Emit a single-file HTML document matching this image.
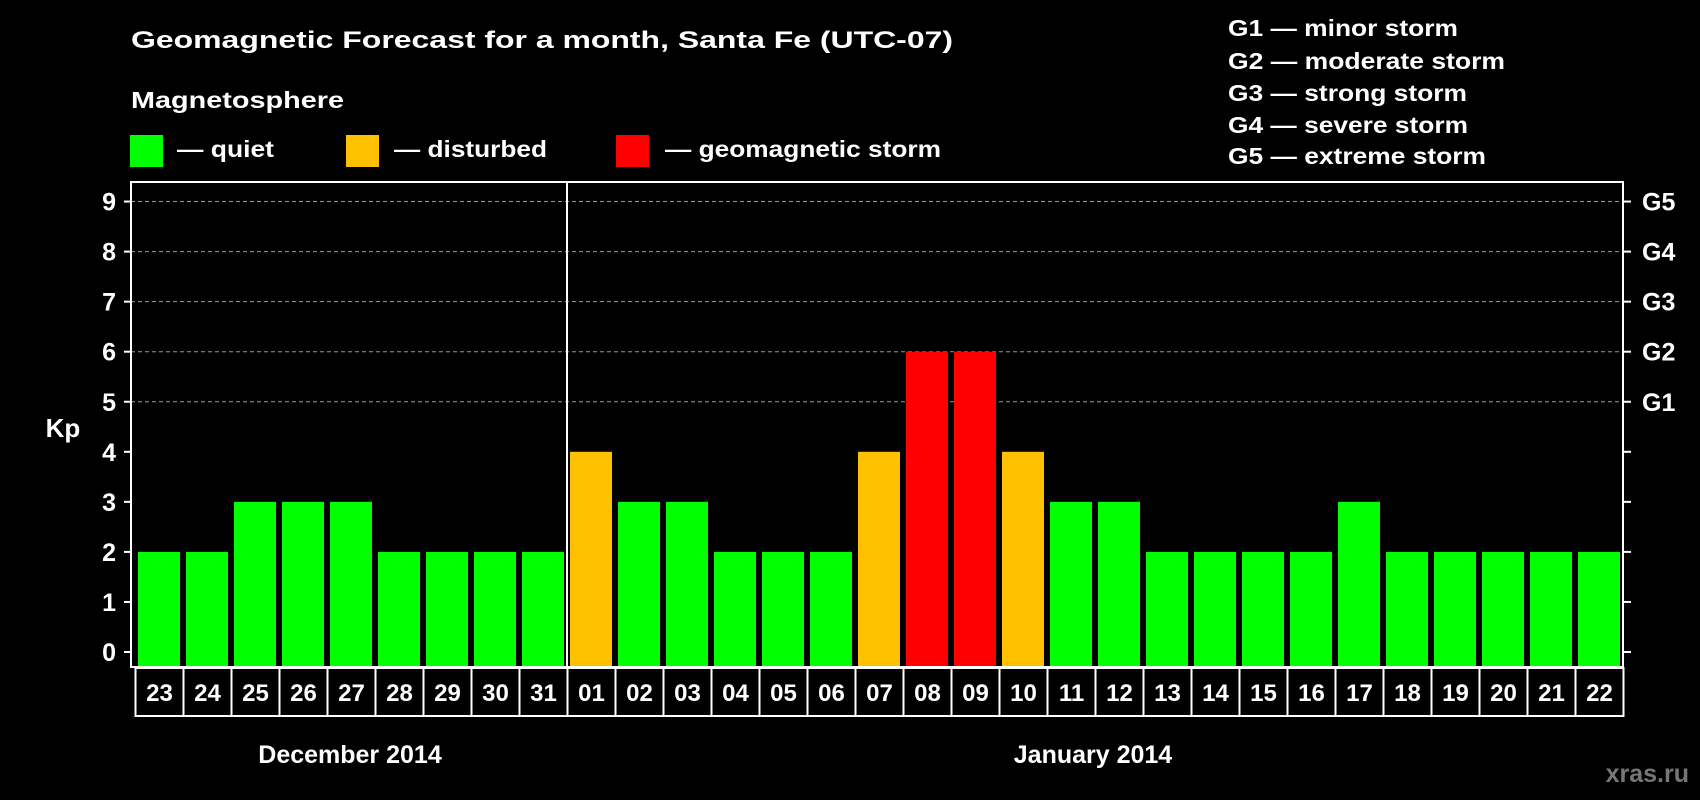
<!DOCTYPE html>
<html><head><meta charset="utf-8"><style>
html,body{margin:0;padding:0;background:#000;}
svg{display:block;font-family:"Liberation Sans",Arial,sans-serif;font-weight:bold;}
</style></head><body>
<svg id="chart" width="1700" height="800" viewBox="0 0 1700 800" xmlns="http://www.w3.org/2000/svg">
<rect x="0" y="0" width="1700" height="800" fill="#000"/>
<text x="131" y="48" fill="#fff" font-size="24" textLength="822" lengthAdjust="spacingAndGlyphs">Geomagnetic Forecast for a month, Santa Fe (UTC-07)</text>
<text x="131" y="108" fill="#fff" font-size="23" textLength="213" lengthAdjust="spacingAndGlyphs">Magnetosphere</text>
<g>
<rect x="130" y="135" width="33" height="32" fill="#00ff00"/>
<text x="177" y="157" fill="#fff" font-size="23" textLength="97" lengthAdjust="spacingAndGlyphs">— quiet</text>
</g>
<g>
<rect x="346" y="135" width="33" height="32" fill="#ffc000"/>
<text x="394" y="157" fill="#fff" font-size="23" textLength="153" lengthAdjust="spacingAndGlyphs">— disturbed</text>
</g>
<g>
<rect x="616" y="135" width="33" height="32" fill="#ff0000"/>
<text x="665" y="157" fill="#fff" font-size="23" textLength="276" lengthAdjust="spacingAndGlyphs">— geomagnetic storm</text>
</g>
<g>
<text x="1228" y="36" fill="#fff" font-size="23" textLength="230" lengthAdjust="spacingAndGlyphs">G1 — minor storm</text>
<text x="1228" y="69" fill="#fff" font-size="23" textLength="277" lengthAdjust="spacingAndGlyphs">G2 — moderate storm</text>
<text x="1228" y="101" fill="#fff" font-size="23" textLength="239" lengthAdjust="spacingAndGlyphs">G3 — strong storm</text>
<text x="1228" y="133" fill="#fff" font-size="23" textLength="240" lengthAdjust="spacingAndGlyphs">G4 — severe storm</text>
<text x="1228" y="164" fill="#fff" font-size="23" textLength="258" lengthAdjust="spacingAndGlyphs">G5 — extreme storm</text>
</g>
<text x="63" y="437" fill="#fff" font-size="26" text-anchor="middle">Kp</text>
<g id="grid"></g>
<g id="bars"></g>
<g id="axes"></g>
<text x="350" y="763" fill="#fff" font-size="25" text-anchor="middle">December 2014</text>
<text x="1093" y="763" fill="#fff" font-size="25" text-anchor="middle">January 2014</text>
<text x="1689" y="782" fill="#777" font-size="25" text-anchor="end">xras.ru</text>
</svg>
<script>
const days = ["23","24","25","26","27","28","29","30","31","01","02","03","04","05","06","07","08","09","10","11","12","13","14","15","16","17","18","19","20","21","22"];
const kpValues = [2,2,3,3,3,2,2,2,2,4,3,3,2,2,2,4,6,6,4,3,3,2,2,2,2,3,2,2,2,2,2];
const yTicks = [0,1,2,3,4,5,6,7,8,9];
const gLabels = ["","","","","","G1","G2","G3","G4","G5"];
const monthBreakIndex = 9;

const NS = "http://www.w3.org/2000/svg";
const plotL = 131, plotR = 1623, plotT = 182, plotB = 667;
const x0 = 135.5, pitch = 48;
function yScale(v){ return 652 - v * 50.05; }
function xScale(i){ return x0 + i * pitch; }
function colorFor(v){ return v >= 5 ? "#ff0000" : (v >= 4 ? "#ffc000" : "#00ff00"); }
function mk(tag, attrs, parent){
  const el = document.createElementNS(NS, tag);
  for (const k in attrs) el.setAttribute(k, attrs[k]);
  parent.appendChild(el);
  return el;
}
const grid = document.getElementById("grid");
const bars = document.getElementById("bars");
const axes = document.getElementById("axes");

yTicks.forEach((t) => {
  const y = yScale(t);
  if (t >= 5) {
    const gl = mk("line", {x1: plotL, x2: plotR, y1: y, y2: y, stroke: "#999", "stroke-width": 1, "stroke-dasharray": "4,3"}, grid);
    
    
  }
  const tl = mk("line", {x1: plotL - 7, x2: plotL, y1: y, y2: y, stroke: "#fff", "stroke-width": 2}, axes);
  
  
  const tr = mk("line", {x1: plotR, x2: plotR + 8, y1: y, y2: y, stroke: "#fff", "stroke-width": 2}, axes);
  
  
  const lab = mk("text", {x: 116, y: y + 9, fill: "#fff", "font-size": 25, "text-anchor": "end"}, axes);
  lab.textContent = t;
  
  
  if (gLabels[t]) {
    const g = mk("text", {x: 1642, y: y + 9, fill: "#fff", "font-size": 25}, axes);
    g.textContent = gLabels[t];
    
    
  }
});

kpValues.forEach((v, i) => {
  const top = yScale(v);
  const r = mk("rect", {x: xScale(i) + 2.5, y: top, width: 42, height: plotB - top, fill: colorFor(v)}, bars);
  
  
});

const frame = mk("rect", {x: plotL, y: plotT, width: plotR - plotL, height: plotB - plotT, fill: "none", stroke: "#fff", "stroke-width": 2}, axes);


const mx = xScale(monthBreakIndex) - 0.5;
const div = mk("line", {x1: mx, x2: mx, y1: plotT, y2: plotB, stroke: "#fff", "stroke-width": 2}, axes);



days.forEach((d, i) => {
  const x = xScale(i);
  const c = mk("rect", {x: x, y: 668, width: pitch, height: 48, fill: "none", stroke: "#fff", "stroke-width": 2}, axes);
  
  
  const t = mk("text", {x: x + pitch / 2, y: 701, fill: "#fff", "font-size": 24, "text-anchor": "middle"}, axes);
  t.textContent = d;
  
  
});
</script>
</body></html>
